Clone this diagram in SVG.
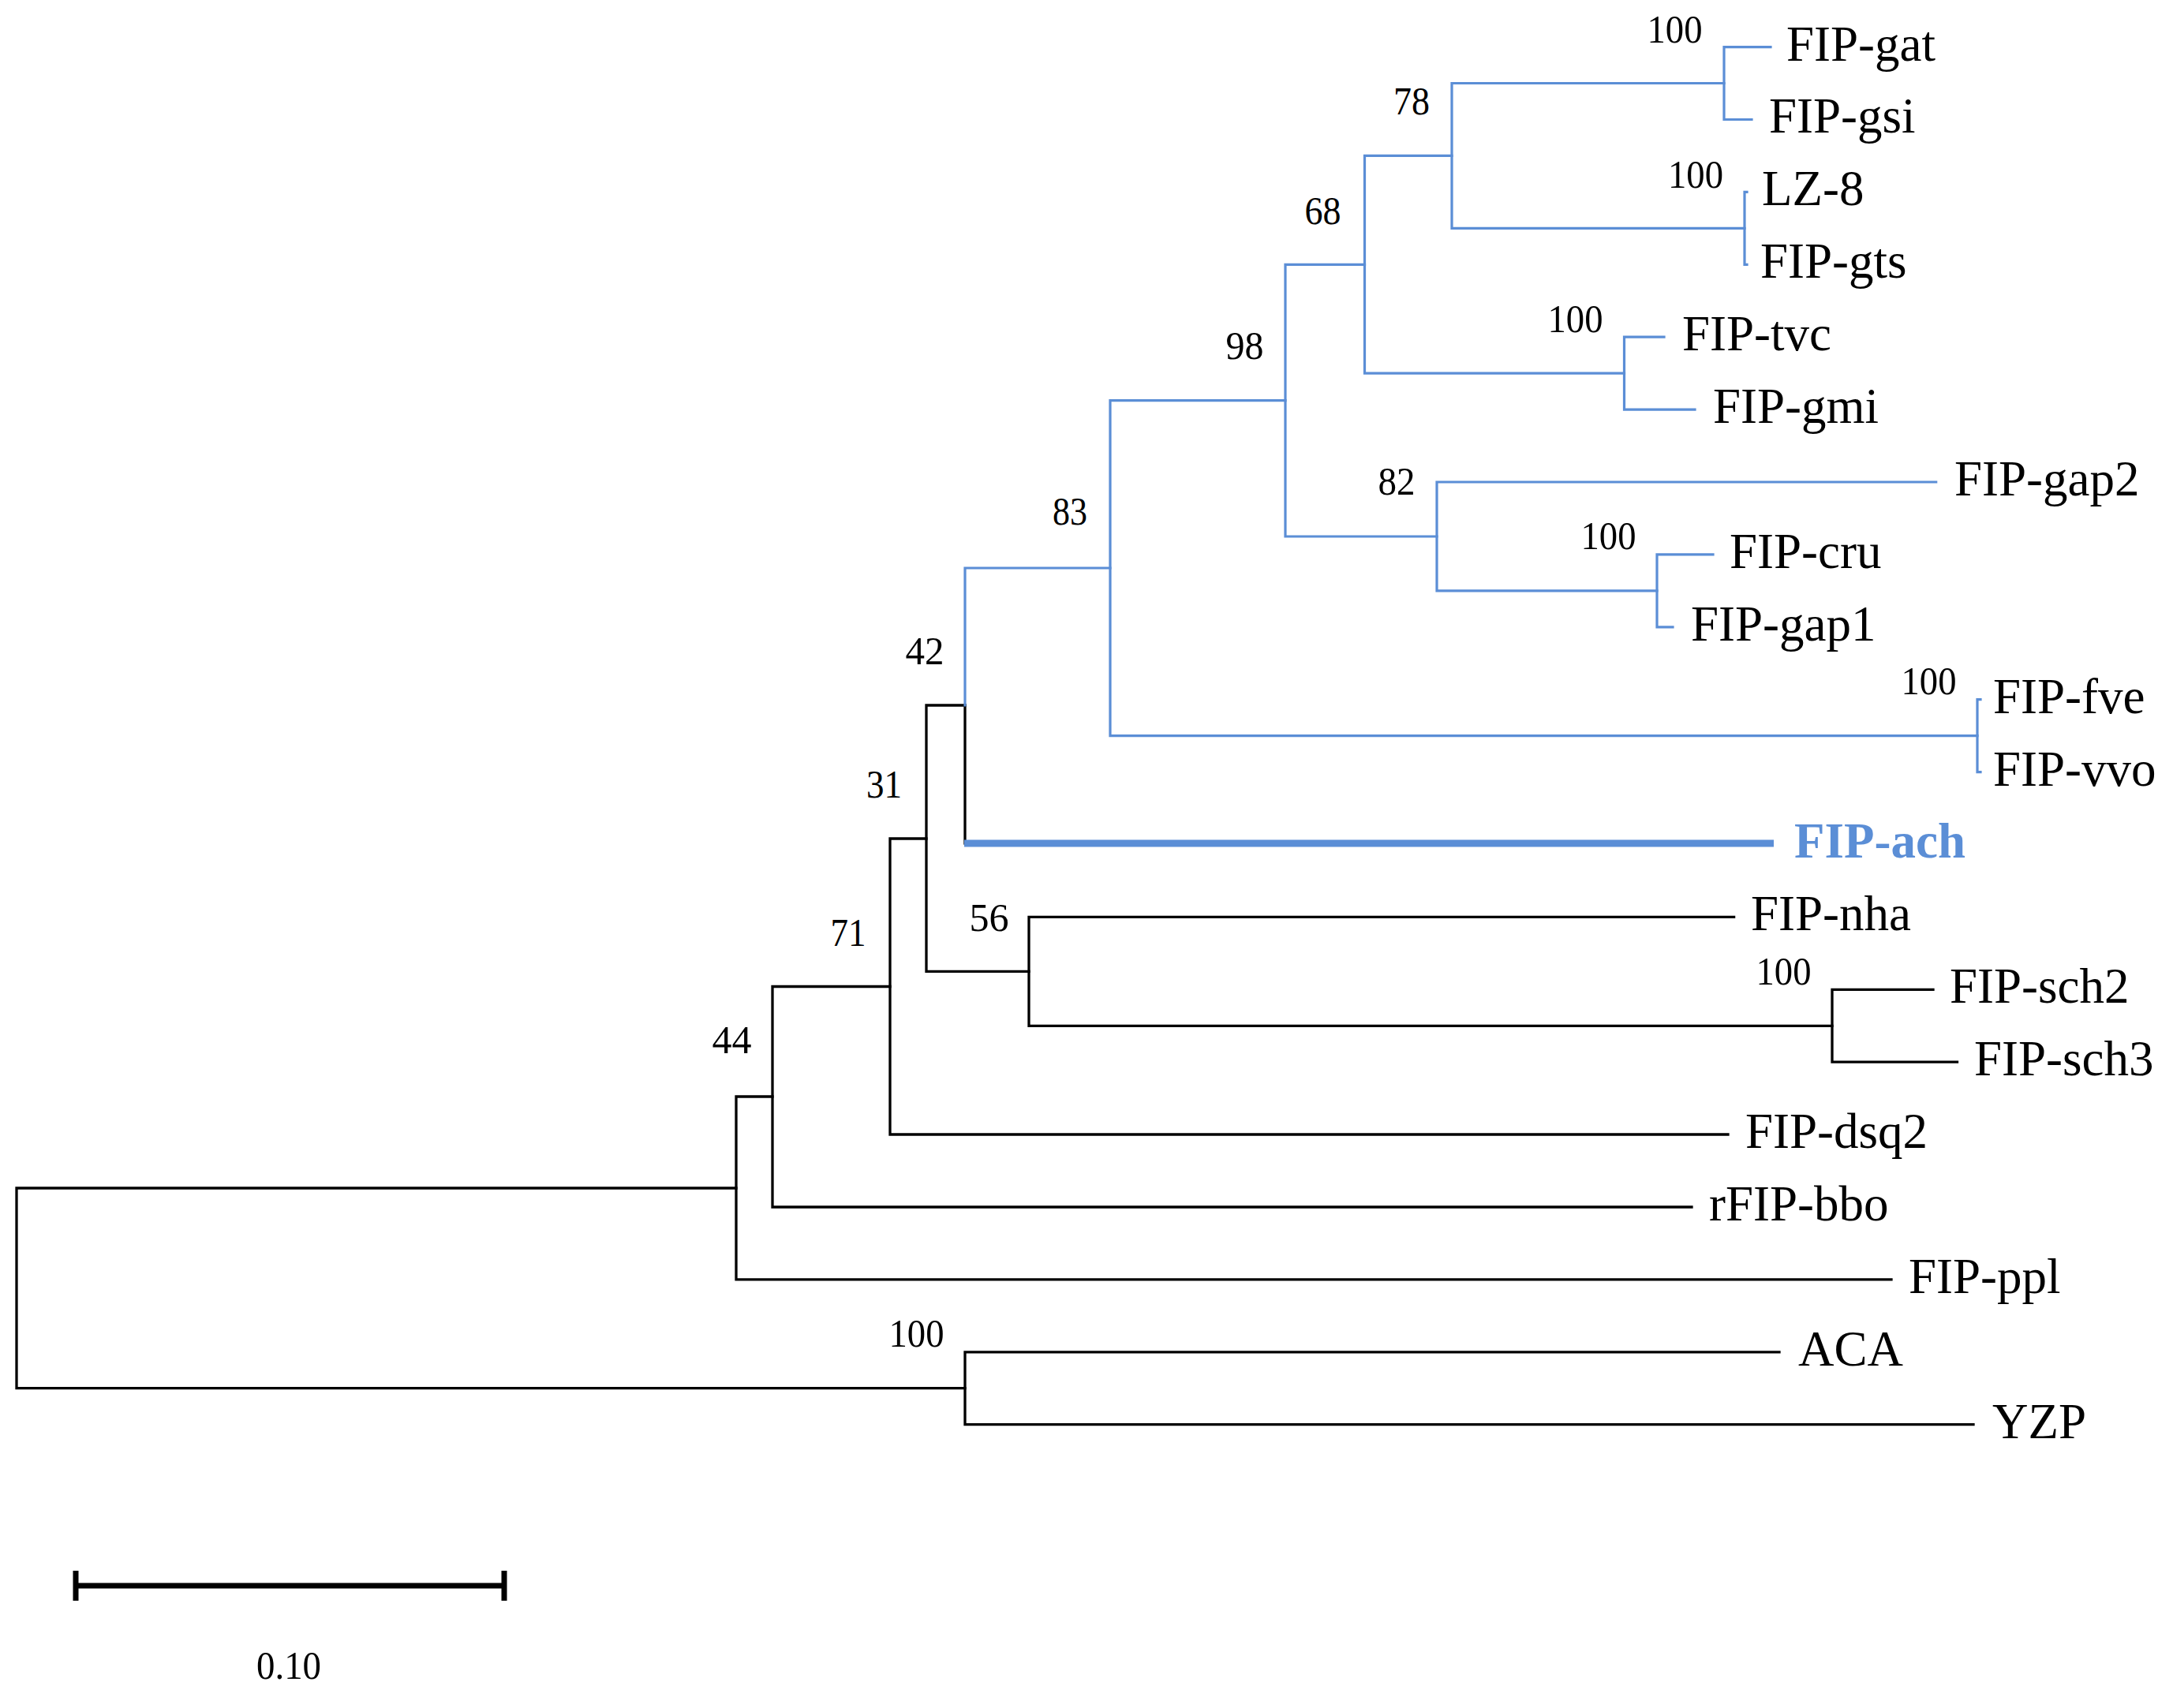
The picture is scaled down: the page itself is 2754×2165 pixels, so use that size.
<svg xmlns="http://www.w3.org/2000/svg" width="2754" height="2165" viewBox="0 0 2754 2165">
<style>
.k{fill:none;stroke:#000;stroke-width:3.3;stroke-linejoin:miter;stroke-linecap:square}
.b{fill:none;stroke:#5B8ED6;stroke-width:3.2;stroke-linejoin:miter;stroke-linecap:square}
.bt{fill:none;stroke:#5B8ED6;stroke-width:9;stroke-linecap:butt}
.lf{font-family:"Liberation Serif","Times New Roman",serif;font-size:63px;fill:#000}
.ach{font-family:"Liberation Serif","Times New Roman",serif;font-size:63px;font-weight:bold;fill:#5B8ED6}
.bs{font-family:"Liberation Serif","Times New Roman",serif;font-size:50px;fill:#000;text-anchor:middle}
</style>
<rect width="2754" height="2165" fill="#fff"/>
<g id="connectors">
<!-- black part -->
<path class="k" d="M933 1506 H21 V1759.7 H1223"/>
<path class="k" d="M979 1390 H933 V1621.9 H2397"/>
<path class="k" d="M1128 1250.5 H979 V1530 H2144"/>
<path class="k" d="M1174 1063 H1128 V1438 H2190"/>
<path class="k" d="M1223 894 H1174 V1231.4 H1304"/>
<path class="k" d="M1223 894 V1069"/>
<path class="k" d="M2197.6 1162.4 H1304 V1300.3 H2322"/>
<path class="k" d="M2450 1254.3 H2322 V1346.2 H2480.5"/>
<path class="k" d="M2255 1713.8 H1223 V1805.7 H2501"/>
<!-- blue part -->
<path class="b" d="M1407 720 H1223 V894"/>
<line class="bt" x1="1222" y1="1069" x2="2248" y2="1069"/>
<path class="b" d="M1629 507.6 H1407 V932.6 H2506"/>
<path class="b" d="M2510 886.7 H2506 V978.6 H2510"/>
<path class="b" d="M1729.5 335.3 H1629 V680 H1821"/>
<path class="b" d="M2453.7 611 H1821 V748.9 H2100"/>
<path class="b" d="M2171 702.9 H2100 V794.8 H2120"/>
<path class="b" d="M1840 197.4 H1729.5 V473.2 H2058.5"/>
<path class="b" d="M2109 427.2 H2058.5 V519.1 H2148"/>
<path class="b" d="M2185 105.5 H1840 V289.3 H2211"/>
<path class="b" d="M2244 59.6 H2185 V151.5 H2220"/>
<path class="b" d="M2214 243.4 H2211 V335.3 H2214"/>
</g>
<g id="leaves">
<g id="leaf-FIP-gat"><text class="lf" x="2264" y="76.8">FIP-gat</text></g>
<g id="leaf-FIP-gsi"><text class="lf" x="2242" y="168">FIP-gsi</text></g>
<g id="leaf-LZ-8"><text class="lf" x="2233" y="260">LZ-8</text></g>
<g id="leaf-FIP-gts"><text class="lf" x="2231" y="352">FIP-gts</text></g>
<g id="leaf-FIP-tvc"><text class="lf" x="2132" y="444">FIP-tvc</text></g>
<g id="leaf-FIP-gmi"><text class="lf" x="2171" y="536">FIP-gmi</text></g>
<g id="leaf-FIP-gap2"><text class="lf" x="2477" y="628">FIP-gap2</text></g>
<g id="leaf-FIP-cru"><text class="lf" x="2192" y="720">FIP-cru</text></g>
<g id="leaf-FIP-gap1"><text class="lf" x="2143" y="812">FIP-gap1</text></g>
<g id="leaf-FIP-fve"><text class="lf" x="2526" y="904">FIP-fve</text></g>
<g id="leaf-FIP-vvo"><text class="lf" x="2526" y="996">FIP-vvo</text></g>
<g id="leaf-FIP-ach"><text class="ach" x="2274" y="1087">FIP-ach</text></g>
<g id="leaf-FIP-nha"><text class="lf" x="2219" y="1179">FIP-nha</text></g>
<g id="leaf-FIP-sch2"><text class="lf" x="2471" y="1271">FIP-sch2</text></g>
<g id="leaf-FIP-sch3"><text class="lf" x="2502" y="1363">FIP-sch3</text></g>
<g id="leaf-FIP-dsq2"><text class="lf" x="2212" y="1455">FIP-dsq2</text></g>
<g id="leaf-rFIP-bbo"><text class="lf" x="2166" y="1547">rFIP-bbo</text></g>
<g id="leaf-FIP-ppl"><text class="lf" x="2419" y="1639">FIP-ppl</text></g>
<g id="leaf-ACA"><text class="lf" x="2279" y="1731">ACA</text></g>
<g id="leaf-YZP"><text class="lf" x="2525" y="1823">YZP</text></g>
</g>
<g id="bootstrap">
<g id="bs-gat"><text class="bs" x="2122.5" y="53.6" textLength="70" lengthAdjust="spacingAndGlyphs">100</text></g>
<g id="bs-78"><text class="bs" x="1789" y="144.6" textLength="46" lengthAdjust="spacingAndGlyphs">78</text></g>
<g id="bs-lz"><text class="bs" x="2149" y="237.5" textLength="70" lengthAdjust="spacingAndGlyphs">100</text></g>
<g id="bs-68"><text class="bs" x="1676.5" y="284" textLength="46" lengthAdjust="spacingAndGlyphs">68</text></g>
<g id="bs-tvc"><text class="bs" x="1996.5" y="421.4" textLength="70" lengthAdjust="spacingAndGlyphs">100</text></g>
<g id="bs-98"><text class="bs" x="1577.5" y="455" textLength="48" lengthAdjust="spacingAndGlyphs">98</text></g>
<g id="bs-82"><text class="bs" x="1770" y="627" textLength="47" lengthAdjust="spacingAndGlyphs">82</text></g>
<g id="bs-83"><text class="bs" x="1356" y="665" textLength="44" lengthAdjust="spacingAndGlyphs">83</text></g>
<g id="bs-cru"><text class="bs" x="2038.5" y="696" textLength="70" lengthAdjust="spacingAndGlyphs">100</text></g>
<g id="bs-42"><text class="bs" x="1172" y="842" textLength="49" lengthAdjust="spacingAndGlyphs">42</text></g>
<g id="bs-fve"><text class="bs" x="2444.5" y="880" textLength="70" lengthAdjust="spacingAndGlyphs">100</text></g>
<g id="bs-31"><text class="bs" x="1120.5" y="1011" textLength="45" lengthAdjust="spacingAndGlyphs">31</text></g>
<g id="bs-56"><text class="bs" x="1253.5" y="1180" textLength="50" lengthAdjust="spacingAndGlyphs">56</text></g>
<g id="bs-71"><text class="bs" x="1075" y="1199" textLength="45" lengthAdjust="spacingAndGlyphs">71</text></g>
<g id="bs-sch"><text class="bs" x="2260.5" y="1248" textLength="70" lengthAdjust="spacingAndGlyphs">100</text></g>
<g id="bs-44"><text class="bs" x="927.5" y="1335" textLength="50" lengthAdjust="spacingAndGlyphs">44</text></g>
<g id="bs-aca"><text class="bs" x="1161.5" y="1707" textLength="70" lengthAdjust="spacingAndGlyphs">100</text></g>
</g>
<g id="scale-bar">
<path d="M96 2010 H639" stroke="#000" stroke-width="7" fill="none"/>
<path d="M96 1991 V2029 M639 1991 V2029" stroke="#000" stroke-width="7" fill="none"/>
<text class="bs" x="366" y="2128" textLength="82" lengthAdjust="spacingAndGlyphs">0.10</text>
</g>
</svg>
